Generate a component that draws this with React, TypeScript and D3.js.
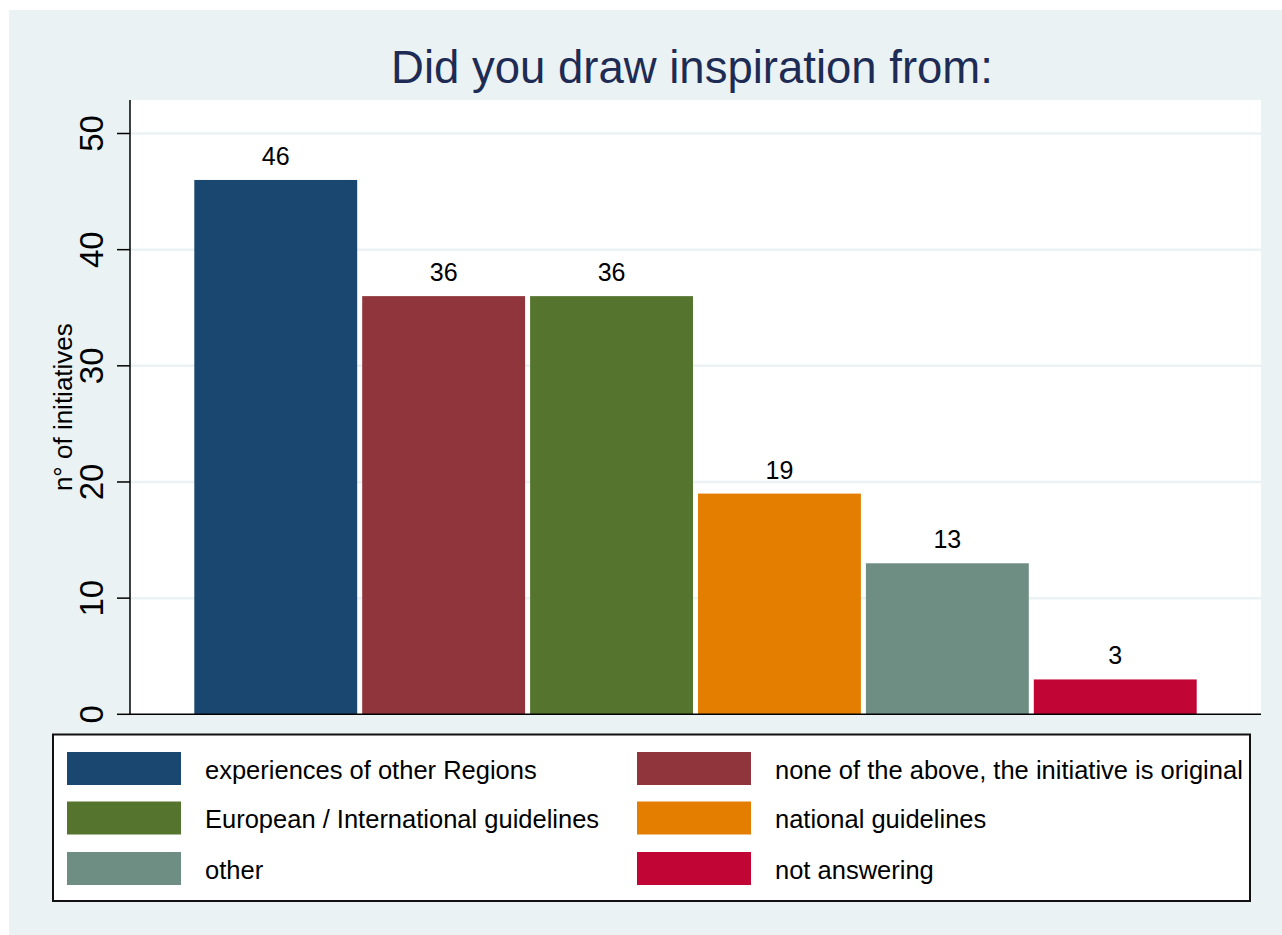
import React from "react";
import * as d3 from "d3";

const categories = [
  "experiences of other Regions",
  "none of the above, the initiative is original",
  "European / International guidelines",
  "national guidelines",
  "other",
  "not answering",
];
const values = [46, 36, 36, 19, 13, 3];
const colors = ["#1a476f", "#90353b", "#55752f", "#e37e00", "#6e8e84", "#c10534"];
const yTicks = [0, 10, 20, 30, 40, 50];
const title = "Did you draw inspiration from:";
const yTitle = "n° of initiatives";

const W = 1282;
const H = 935;
const FONT = "'Liberation Sans', Arial, Helvetica, sans-serif";

export default function App() {
  const plotL = 130, plotR = 1261, plotT = 100, plotB = 714.3;
  const x = d3.scaleBand<string>().domain(categories).range([194.3, 1196.7]).paddingInner(0.0298).paddingOuter(0);
  const y = d3.scaleLinear().domain([0, 50]).range([plotB, 133.5]);

  const legendRowY = [768.5, 818, 868.5];
  const colKeyX = [67, 637];
  const colTextX = [205, 775];

  return (
    <div style={{ position: "absolute", left: 0, top: 0, width: W, height: H, overflow: "hidden" }}>
      <svg width={W} height={H} style={{ display: "block" }} fontFamily={FONT}>
        <rect x={0} y={0} width={W} height={H} fill="#ffffff" />
        <rect x={9} y={10} width={W - 9} height={H - 10} fill="#eaf2f3" />
        <text x={692} y={83} textAnchor="middle" fontSize={45.5} fill="#1e2c55">{title}</text>
        <rect x={plotL} y={plotT} width={plotR - plotL} height={plotB - plotT} fill="#ffffff" />
        {yTicks.filter((t) => t > 0).map((t) => (
          <line key={"g" + t} x1={plotL} x2={plotR} y1={y(t)} y2={y(t)} stroke="#eaf2f3" strokeWidth={2.5} />
        ))}
        {categories.map((c, i) => (
          <g key={c}>
            <rect x={x(c)} y={y(values[i])} width={x.bandwidth()} height={plotB - y(values[i])} fill={colors[i]} />
            <text x={(x(c) as number) + x.bandwidth() / 2} y={y(values[i]) - 15} textAnchor="middle" fontSize={25} fill="#000">
              {values[i]}
            </text>
          </g>
        ))}
        <line x1={plotL} x2={plotL} y1={plotT} y2={plotB} stroke="#000" strokeWidth={1.5} />
        <line x1={plotL - 0.75} x2={plotR} y1={plotB} y2={plotB} stroke="#000" strokeWidth={1.5} />
        {yTicks.map((t) => (
          <g key={"t" + t}>
            <line x1={plotL - 13} x2={plotL} y1={y(t)} y2={y(t)} stroke="#000" strokeWidth={1.5} />
            <text transform={`translate(103,${y(t)}) rotate(-90)`} textAnchor="middle" fontSize={33} fill="#000">{t}</text>
          </g>
        ))}
        <text transform={`translate(72,${(plotT + plotB) / 2}) rotate(-90)`} textAnchor="middle" fontSize={26} fill="#000">{yTitle}</text>
        <rect x={53} y={734.5} width={1197} height={166.5} fill="#ffffff" stroke="#111" strokeWidth={2} />
        {categories.map((c, i) => {
          const col = i % 2;
          const row = Math.floor(i / 2);
          return (
            <g key={"l" + c}>
              <rect x={colKeyX[col]} y={legendRowY[row] - 16.5} width={114} height={33} fill={colors[i]} />
              <text x={colTextX[col]} y={legendRowY[row] + 10} fontSize={25.5} fill="#000">{c}</text>
            </g>
          );
        })}
      </svg>
    </div>
  );
}
